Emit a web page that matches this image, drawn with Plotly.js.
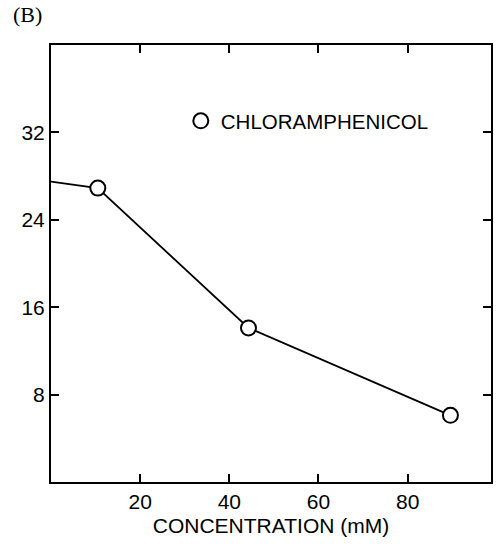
<!DOCTYPE html>
<html>
<head>
<meta charset="utf-8">
<script src="https://cdn.plot.ly/plotly-3.0.1.min.js"></script>
<style>html,body{margin:0;padding:0;background:#fff;}#chart{width:500px;height:544px;}</style>
</head>
<body>
<div id="chart"></div>
<script>
// Data
const lineX = [0, 10.5, 44.3, 89.6];
const lineY = [27.5, 26.9, 14.1, 6.1];
const pointX = [10.5, 44.3, 89.6];
const pointY = [26.9, 14.1, 6.1];
const seriesName = 'CHLORAMPHENICOL';
const xTicks = [20, 40, 60, 80];
const yTicks = [8, 16, 24, 32];

const font = 'Liberation Sans, Arial, Helvetica, sans-serif';

const traces = [
  {
    x: lineX, y: lineY, type: 'scatter', mode: 'lines',
    line: {color: '#000', width: 1.8},
    showlegend: false, hoverinfo: 'skip'
  },
  {
    x: pointX, y: pointY, type: 'scatter', mode: 'markers',
    name: seriesName,
    marker: {symbol: 'circle', size: 15, color: '#fff', line: {color: '#000', width: 2}},
    showlegend: true
  }
];

const axisCommon = {
  showgrid: false, zeroline: false,
  showline: true, linecolor: '#000', linewidth: 2,
  mirror: 'ticks', ticks: 'inside', ticklen: 8, tickwidth: 2, tickcolor: '#000',
  tickfont: {family: font, size: 21, color: '#000'}
};

const layout = {
  width: 500, height: 544,
  margin: {l: 51, r: 9, t: 45, b: 62, pad: 0},
  paper_bgcolor: '#fff', plot_bgcolor: '#fff',
  xaxis: Object.assign({}, axisCommon, {
    range: [0, 98.7], tickvals: xTicks, ticktext: xTicks.map(String),
    title: {text: 'CONCENTRATION (mM)', font: {family: font, size: 21, color: '#000'}, standoff: 6}
  }),
  yaxis: Object.assign({}, axisCommon, {
    range: [0, 40], tickvals: yTicks, ticktext: yTicks.map(String)
  }),
  showlegend: true,
  legend: {
    x: 0.295, y: 0.826, xanchor: 'left', yanchor: 'middle',
    bgcolor: 'rgba(0,0,0,0)', borderwidth: 0,
    font: {family: font, size: 20.5, color: '#000'},
    itemsizing: 'trace'
  },
  annotations: [
    {
      text: '(B)', xref: 'paper', yref: 'paper', x: -0.09, y: 1.07,
      xanchor: 'left', yanchor: 'middle', showarrow: false,
      font: {family: 'Liberation Serif, Times New Roman, serif', size: 22, color: '#000'}
    }
  ]
};

Plotly.newPlot('chart', traces, layout, {displayModeBar: false, staticPlot: true});
</script>
</body>
</html>
